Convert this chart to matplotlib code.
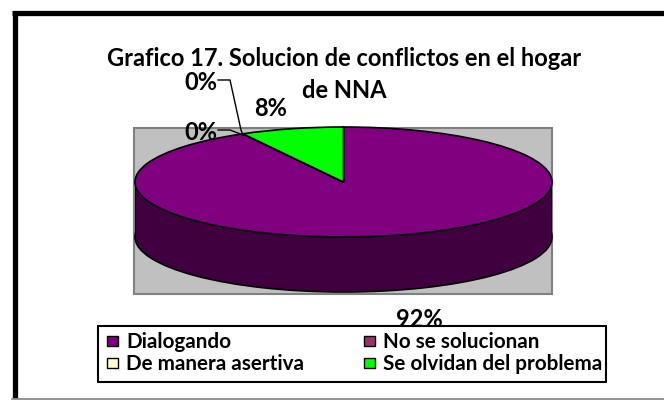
import matplotlib
matplotlib.use('Agg')
import matplotlib.pyplot as plt
from matplotlib.patches import Rectangle

plt.rcParams['font.family'] = ['Lato', 'DejaVu Sans']

W, H = 664, 400

# chart data
labels = ["Dialogando", "No se solucionan", "De manera asertiva", "Se olvidan del problema"]
values = [92, 0, 0, 8]
pct_labels = ["92%", "0%", "0%", "8%"]
colors = ["#800080", "#993366", "#FFFFCC", "#00FF00"]
side_color = "#400040"
title_lines = ["Grafico 17. Solucion de conflictos en el hogar", "de NNA"]

fig = plt.figure(figsize=(W / 100, H / 100), dpi=100)

# background layer in pixel coordinates
bg = fig.add_axes([0, 0, 1, 1])
bg.set_xlim(0, W)
bg.set_ylim(H, 0)
bg.axis('off')
bg.plot([14.5, 14.5], [H - 2, 12.5], color='black', lw=3.8, solid_capstyle='butt')
bg.plot([12, W], [12.5, 12.5], color='black', lw=3.8, solid_capstyle='butt')
bg.add_patch(Rectangle((134, 127.5), 418, 166.5, fc='#C0C0C0', ec='#808080', lw=1.5))
bg.plot([12, W], [399, 399], color='#808080', lw=1.2)


def pixel_axes(x0, x1, y0, y1):
    return fig.add_axes([x0 / W, 1 - y1 / H, (x1 - x0) / W, (y1 - y0) / H])


# pie layer: one y unit is the height of the squashed radius
ax = pixel_axes(135, 552, 127, 292)
wp = {'edgecolor': 'black', 'linewidth': 1.2}
ax.pie([1], colors=[side_color], center=(0, -1), radius=1, wedgeprops=wp)
ax.add_patch(Rectangle((-1, -1), 2, 1, fc=side_color, ec='none'))
ax.plot([-1, -1], [-1, 0], color='black', lw=1.2)
ax.plot([1, 1], [-1, 0], color='black', lw=1.2)
ax.pie(values, colors=colors, startangle=90, counterclock=False, radius=1, wedgeprops=wp)
ax.set_aspect('auto')
ax.set_xlim(-1, 1)
ax.set_ylim(-2, 1)
ax.axis('off')

# text layer
top = fig.add_axes([0, 0, 1, 1])
top.set_xlim(0, W)
top.set_ylim(H, 0)
top.axis('off')
top.patch.set_alpha(0)
lab = dict(fontsize=17, fontweight='bold', ha='center', va='baseline', color='black')
top.text(344, 66, title_lines[0], **lab)
top.text(344, 98, title_lines[1], **lab)
top.text(419, 327, pct_labels[0], **lab)
top.text(200.5, 90, pct_labels[1], **lab)
top.text(200.5, 140, pct_labels[2], **lab)
top.text(270.5, 116, pct_labels[3], **lab)
top.plot([218, 230, 241, 243], [80, 80, 130, 135], color='black', lw=1)
top.plot([218, 230, 243], [130, 130, 135], color='black', lw=1)

# legend
top.add_patch(Rectangle((98, 325.5), 508, 56.5, fc='white', ec='black', lw=1.5, zorder=5))
legend_pos = [(107, 341), (364, 341), (107, 363), (364, 363)]
for (lx, ly), name, c in zip(legend_pos, labels, colors):
    top.add_patch(Rectangle((lx, ly - 5), 11, 10, fc=c, ec='black', lw=1, zorder=6))
    top.text(lx + 19, ly + 6.5, name, fontsize=14.9, fontweight='bold', ha='left', va='baseline', zorder=6)

fig.savefig('out.png', dpi=100)
